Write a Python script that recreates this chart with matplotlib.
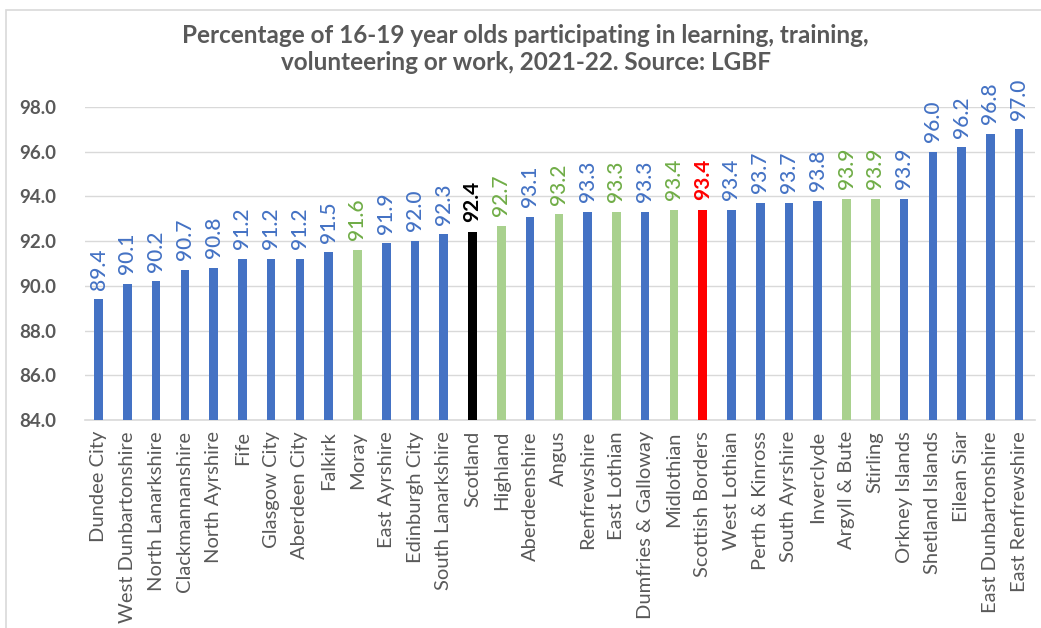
import numpy as np
import matplotlib.pyplot as plt
from matplotlib.patches import Rectangle

areas = ['Dundee City', 'West Dunbartonshire', 'North Lanarkshire', 'Clackmannanshire',
         'North Ayrshire', 'Fife', 'Glasgow City', 'Aberdeen City', 'Falkirk', 'Moray',
         'East Ayrshire', 'Edinburgh City', 'South Lanarkshire', 'Scotland', 'Highland',
         'Aberdeenshire', 'Angus', 'Renfrewshire', 'East Lothian', 'Dumfries & Galloway',
         'Midlothian', 'Scottish Borders', 'West Lothian', 'Perth & Kinross', 'South Ayrshire',
         'Inverclyde', 'Argyll & Bute', 'Stirling', 'Orkney Islands', 'Shetland Islands',
         'Eilean Siar', 'East Dunbartonshire', 'East Renfrewshire']
values = [89.4, 90.1, 90.2, 90.7, 90.8, 91.2, 91.2, 91.2, 91.5, 91.6,
          91.9, 92.0, 92.3, 92.4, 92.7, 93.1, 93.2, 93.3, 93.3, 93.3,
          93.4, 93.4, 93.4, 93.7, 93.7, 93.8, 93.9, 93.9, 93.9, 96.0,
          96.2, 96.8, 97.0]
# b = blue, g = green (comparator), s = Scotland, r = Scottish Borders
groups = ['b', 'b', 'b', 'b', 'b', 'b', 'b', 'b', 'b', 'g',
          'b', 'b', 'b', 's', 'g', 'b', 'g', 'b', 'g', 'b',
          'g', 'r', 'b', 'b', 'b', 'b', 'g', 'g', 'b', 'b',
          'b', 'b', 'b']
yticks = [84, 86, 88, 90, 92, 94, 96, 98]

bar_col = {'b': '#4472C4', 'g': '#A9D18E', 's': '#000000', 'r': '#FF0000'}
lab_col = {'b': '#4472C4', 'g': '#70AD47', 's': '#000000', 'r': '#FF0000'}
grey = '#595959'

plt.rcParams['font.family'] = ['Lato', 'DejaVu Sans']

fig = plt.figure(figsize=(10.41, 6.28), dpi=100)
fig.patches.append(Rectangle((6 / 1041, -0.1), 1.2, 1 - 10 / 628 + 0.1,
                             transform=fig.transFigure, fill=False,
                             edgecolor='#D9D9D9', linewidth=1.2))
ax = fig.add_axes([0.0817, 0.3312, 0.9125, 0.4984])

x = np.arange(len(areas))
ax.bar(x, [v - 84 for v in values], bottom=84, width=0.3,
       color=[bar_col[g] for g in groups], zorder=3)

for xi, v, g in zip(x, values, groups):
    ax.annotate(f'{v:.1f}', (xi, v), xytext=(0, 7), textcoords='offset points',
                rotation=90, ha='center', va='bottom', fontsize=15,
                color=lab_col[g], fontweight='bold' if g in 'sr' else 'medium',
                annotation_clip=False)

ax.set_xlim(-0.47, 32.55)
ax.set_ylim(84, 98)
ax.set_yticks(yticks)
ax.set_yticklabels([f'{t:.1f}' for t in yticks], fontsize=13.5, fontweight='bold', color=grey)
ax.set_xticks(x)
ax.set_xticklabels(areas, rotation=90, fontsize=14.5, color=grey)
ax.tick_params(axis='both', length=0)
ax.tick_params(axis='y', pad=21)
ax.tick_params(axis='x', pad=8)
ax.grid(axis='y', color='#D9D9D9', linewidth=1, zorder=0)
for s in ['top', 'right', 'left']:
    ax.spines[s].set_visible(False)
ax.spines['bottom'].set_color('#D9D9D9')
ax.spines['bottom'].set_linewidth(1.2)

fig.text(0.505, 0.922, 'Percentage of 16-19 year olds participating in learning, training,\n'
         'volunteering or work, 2021-22. Source: LGBF', ha='center', va='center',
         fontsize=17.5, fontweight='bold', color=grey, linespacing=1.25)

fig.savefig('out.png', dpi=100)
